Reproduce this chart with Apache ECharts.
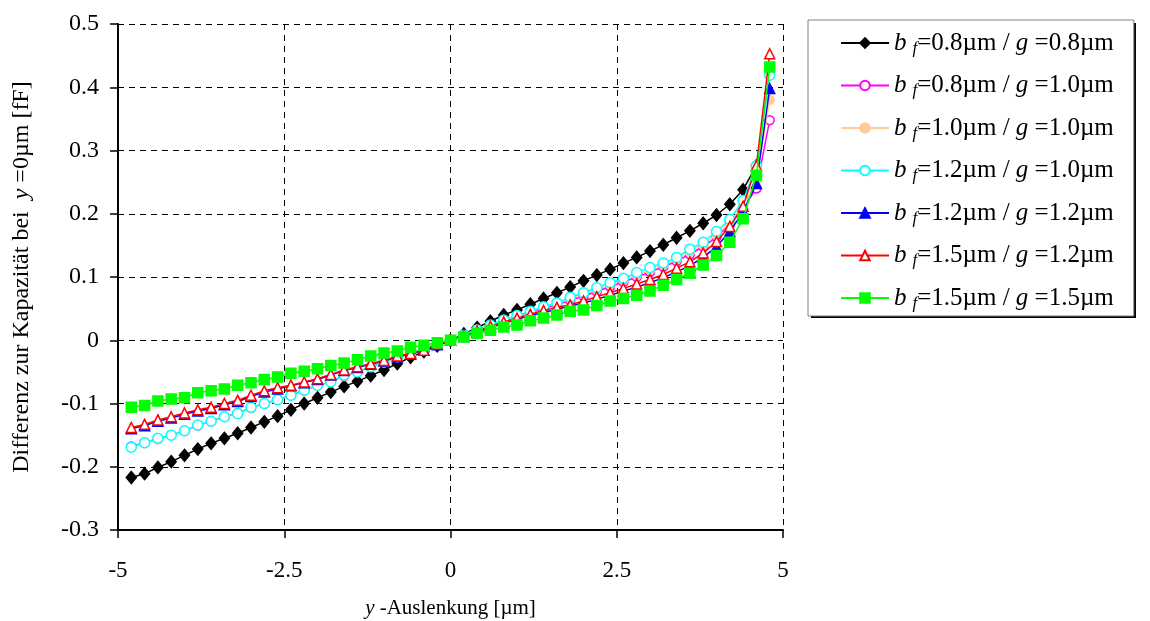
<!DOCTYPE html>
<html>
<head>
<meta charset="utf-8">
<script src="https://cdn.jsdelivr.net/npm/echarts@6/dist/echarts.min.js"></script>
<style>
  html, body { margin: 0; padding: 0; background: #fff; }
  #chart { width: 1150px; height: 621px; }
</style>
</head>
<body>
<div id="chart"></div>
<script>
// Deflection positions y [µm], -4.8 … 4.8 in 0.2 steps
const xVals = [-4.8, -4.6, -4.4, -4.2, -4.0, -3.8, -3.6, -3.4, -3.2, -3.0, -2.8, -2.6, -2.4, -2.2, -2.0, -1.8, -1.6, -1.4, -1.2, -1.0, -0.8, -0.6, -0.4, -0.2, 0,
               0.2, 0.4, 0.6, 0.8, 1.0, 1.2, 1.4, 1.6, 1.8, 2.0, 2.2, 2.4, 2.6, 2.8, 3.0, 3.2, 3.4, 3.6, 3.8, 4.0, 4.2, 4.4, 4.6, 4.8];

// Finger width / gap of each configuration
const bfVals = ['0.8', '0.8', '1.0', '1.2', '1.2', '1.5', '1.5'];
const gVals  = ['0.8', '1.0', '1.0', '1.0', '1.2', '1.2', '1.5'];

// Capacitance difference to y = 0µm [fF]
const dC_bf08_g08 = [-0.217, -0.211, -0.201, -0.192, -0.182, -0.172, -0.163, -0.155, -0.147, -0.138, -0.129, -0.120, -0.110, -0.100, -0.091, -0.082, -0.073, -0.065, -0.056, -0.047, -0.037, -0.027, -0.018, -0.009, 0,
                     0.010, 0.020, 0.030, 0.040, 0.048, 0.057, 0.066, 0.075, 0.084, 0.094, 0.103, 0.112, 0.122, 0.131, 0.141, 0.151, 0.162, 0.173, 0.185, 0.198, 0.215, 0.238, 0.276];
const dC_bf08_g10 = [-0.168, -0.162, -0.156, -0.150, -0.143, -0.135, -0.128, -0.121, -0.115, -0.107, -0.100, -0.094, -0.087, -0.079, -0.072, -0.065, -0.057, -0.050, -0.042, -0.035, -0.027, -0.020, -0.014, -0.006, 0,
                     0.008, 0.015, 0.023, 0.030, 0.037, 0.044, 0.050, 0.056, 0.063, 0.070, 0.077, 0.085, 0.092, 0.100, 0.108, 0.116, 0.125, 0.136, 0.148, 0.163, 0.183, 0.208, 0.240, 0.348];
const dC_bf10_g10 = [-0.169, -0.163, -0.156, -0.150, -0.143, -0.135, -0.128, -0.121, -0.116, -0.107, -0.100, -0.094, -0.087, -0.079, -0.072, -0.066, -0.056, -0.050, -0.042, -0.035, -0.027, -0.021, -0.014, -0.006, 0,
                     0.008, 0.017, 0.024, 0.031, 0.038, 0.045, 0.052, 0.058, 0.066, 0.073, 0.080, 0.088, 0.095, 0.103, 0.111, 0.119, 0.128, 0.140, 0.151, 0.167, 0.186, 0.213, 0.252, 0.380];
const dC_bf12_g10 = [-0.169, -0.162, -0.155, -0.150, -0.143, -0.134, -0.128, -0.121, -0.116, -0.106, -0.100, -0.094, -0.087, -0.079, -0.071, -0.066, -0.055, -0.050, -0.042, -0.034, -0.026, -0.021, -0.015, -0.005, 0,
                     0.008, 0.016, 0.024, 0.032, 0.039, 0.046, 0.053, 0.059, 0.068, 0.075, 0.083, 0.091, 0.098, 0.107, 0.115, 0.122, 0.131, 0.144, 0.155, 0.172, 0.191, 0.221, 0.276, 0.419];
const dC_bf12_g12 = [-0.140, -0.135, -0.128, -0.123, -0.117, -0.112, -0.108, -0.102, -0.097, -0.089, -0.082, -0.077, -0.072, -0.067, -0.062, -0.055, -0.048, -0.043, -0.038, -0.033, -0.026, -0.022, -0.016, -0.007, 0,
                     0.006, 0.013, 0.020, 0.027, 0.033, 0.039, 0.044, 0.049, 0.054, 0.059, 0.065, 0.071, 0.078, 0.084, 0.091, 0.099, 0.108, 0.118, 0.131, 0.148, 0.172, 0.203, 0.248, 0.398];
const dC_bf15_g12 = [-0.138, -0.133, -0.126, -0.121, -0.115, -0.110, -0.106, -0.100, -0.095, -0.087, -0.080, -0.075, -0.071, -0.066, -0.061, -0.054, -0.047, -0.042, -0.037, -0.032, -0.025, -0.021, -0.016, -0.006, 0,
                     0.007, 0.014, 0.022, 0.029, 0.035, 0.041, 0.047, 0.052, 0.056, 0.062, 0.069, 0.075, 0.082, 0.089, 0.096, 0.104, 0.114, 0.124, 0.138, 0.156, 0.180, 0.212, 0.276, 0.453];
const dC_bf15_g15 = [-0.106, -0.103, -0.096, -0.093, -0.091, -0.083, -0.080, -0.077, -0.071, -0.067, -0.062, -0.058, -0.052, -0.049, -0.045, -0.040, -0.036, -0.031, -0.025, -0.020, -0.017, -0.011, -0.008, -0.004, 0,
                     0.005, 0.011, 0.016, 0.021, 0.024, 0.031, 0.035, 0.040, 0.046, 0.048, 0.055, 0.062, 0.066, 0.071, 0.078, 0.087, 0.096, 0.106, 0.119, 0.134, 0.155, 0.192, 0.261, 0.432];

const seriesValues = [dC_bf08_g08, dC_bf08_g10, dC_bf10_g10, dC_bf12_g10, dC_bf12_g12, dC_bf15_g12, dC_bf15_g15];

// Axis ticks
const xTicks = { min: -5, max: 5, step: 2.5 };
const yTicks = { min: -0.3, max: 0.5, step: 0.1 };

const SERIF = '"Liberation Serif", "DejaVu Serif", serif';

const styles = [
  { color: '#000000', symbol: 'diamond',  size: [10, 12], fill: '#000000' },
  { color: '#ff00ff', symbol: 'circle',   size: 9,        fill: '#ffffff' },
  { color: '#ffcc99', symbol: 'circle',   size: 9,        fill: '#ffcc99' },
  { color: '#00ffff', symbol: 'circle',   size: 10,       fill: '#ffffff' },
  { color: '#0000ff', symbol: 'triangle', size: 10,       fill: '#0000ff' },
  { color: '#ff0000', symbol: 'triangle', size: 10,       fill: '#ffffff' },
  { color: '#00ff00', symbol: 'rect',     size: 10,       fill: '#00ff00' }
];

const names = bfVals.map((bf, i) => 'bf=' + bf + 'µm / g=' + gVals[i] + 'µm');

const series = seriesValues.map((vals, i) => {
  const st = styles[i];
  return {
    name: names[i],
    type: 'line',
    data: vals.map((v, k) => [xVals[k], v]),
    symbol: st.symbol,
    symbolSize: st.size,
    showAllSymbol: true,
    lineStyle: { color: st.color, width: 1.5 },
    itemStyle: { color: st.fill, borderColor: st.color, borderWidth: 1.5 },
    emphasis: { disabled: true },
    animation: false,
    z: 2 + i
  };
});

// Legend frame geometry (box with a hard drop shadow)
const LEG = { left: 808, top: 20, width: 325, height: 295, shadow: 3 };

const chart = echarts.init(document.getElementById('chart'), null, { renderer: 'canvas' });

chart.setOption({
  backgroundColor: '#ffffff',
  animation: false,
  grid: { left: 118, right: 367, top: 24, bottom: 91, outerBoundsMode: 'none', containLabel: false },
  graphic: [{
    type: 'rect',
    z: 0,
    silent: true,
    shape: { x: LEG.left + LEG.shadow, y: LEG.top + LEG.shadow, width: LEG.width, height: LEG.height },
    style: { fill: '#000' }
  }],
  xAxis: {
    type: 'value',
    min: xTicks.min, max: xTicks.max, interval: xTicks.step,
    name: '{i|y}{n| -Auslenkung [µm]}',
    nameLocation: 'middle',
    nameGap: 68,
    nameTextStyle: {
      rich: {
        n: { fontFamily: SERIF, fontSize: 21, color: '#000' },
        i: { fontFamily: SERIF, fontSize: 21, fontStyle: 'italic', color: '#000' }
      }
    },
    axisLine: { onZero: false, lineStyle: { color: '#000', width: 2 } },
    axisTick: { show: true, inside: false, length: 8, lineStyle: { color: '#000', width: 1.5 } },
    axisLabel: { fontFamily: SERIF, fontSize: 23, color: '#000', margin: 29 },
    splitLine: { show: true, lineStyle: { color: '#000', width: 1, type: [6, 5] } }
  },
  yAxis: {
    type: 'value',
    min: yTicks.min, max: yTicks.max, interval: yTicks.step,
    name: '{n|Differenz zur Kapazität bei  }{i|y}{n| =0µm [fF]}',
    nameLocation: 'middle',
    nameRotate: 90,
    nameGap: 84,
    nameTextStyle: {
      rich: {
        n: { fontFamily: SERIF, fontSize: 24, color: '#000' },
        i: { fontFamily: SERIF, fontSize: 24, fontStyle: 'italic', color: '#000' }
      }
    },
    axisLine: { onZero: false, lineStyle: { color: '#000', width: 2 } },
    axisTick: { show: true, inside: false, length: 8, lineStyle: { color: '#000', width: 1.5 } },
    axisLabel: {
      fontFamily: SERIF, fontSize: 24, color: '#000', margin: 19,
      formatter: v => (Math.abs(v) < 1e-9 ? '0' : String(Math.round(v * 10) / 10))
    },
    splitLine: { show: true, lineStyle: { color: '#000', width: 1, type: [6, 5] } }
  },
  legend: {
    orient: 'vertical',
    left: LEG.left,
    top: LEG.top,
    z: 5,
    padding: [9, 20, 4, 32],
    itemGap: 14.5,
    itemWidth: 48,
    itemHeight: 12,
    backgroundColor: '#ffffff',
    borderColor: '#808080',
    borderWidth: 1,
    selectedMode: false,
    data: names,
    formatter: function (name) {
      const i = names.indexOf(name);
      return '{i|b}{s|f}{n|=' + bfVals[i] + 'µm / }{i|g}{n| =' + gVals[i] + 'µm}';
    },
    textStyle: {
      color: '#000',
      fontFamily: SERIF,
      fontSize: 25,
      rich: {
        n: { fontFamily: SERIF, fontSize: 25, lineHeight: 28, color: '#000' },
        i: { fontFamily: SERIF, fontSize: 25, lineHeight: 28, fontStyle: 'italic', color: '#000' },
        s: { fontFamily: SERIF, fontSize: 17, lineHeight: 17, fontStyle: 'italic', color: '#000', padding: [11, 0, 0, 6] }
      }
    }
  },
  series: series
});
</script>
</body>
</html>
